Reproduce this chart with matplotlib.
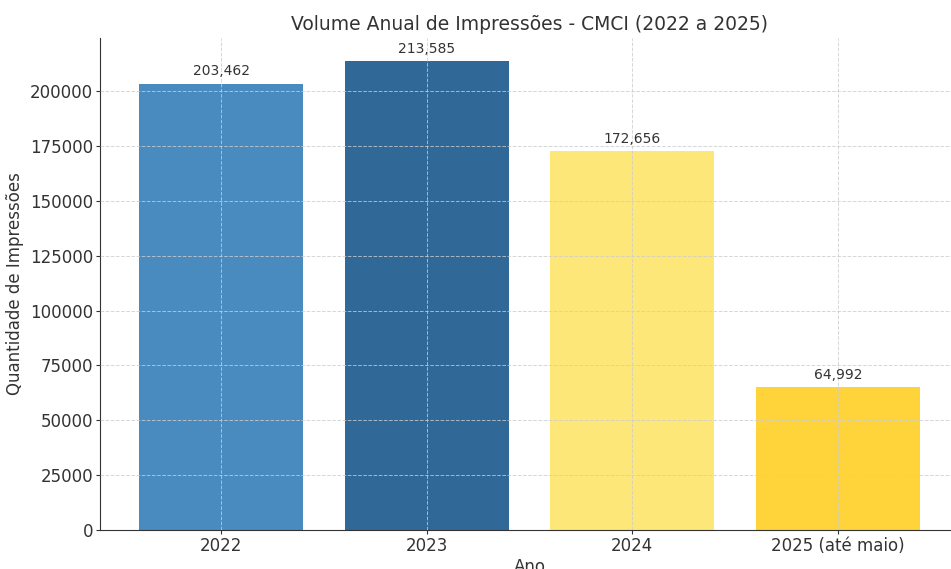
import matplotlib
matplotlib.use("Agg")
import matplotlib.pyplot as plt

# Dados
anos = ["2022", "2023", "2024", "2025 (até maio)"]
impressoes = [203462, 213585, 172656, 64992]
cores = ["#4a8bbf", "#306898", "#fde779", "#ffd43b"]

plt.rcParams["font.family"] = "DejaVu Sans"
plt.rcParams["text.color"] = "#333333"
plt.rcParams["axes.labelcolor"] = "#333333"
plt.rcParams["xtick.color"] = "#333333"
plt.rcParams["ytick.color"] = "#333333"

fig = plt.figure(figsize=(9.51, 5.69), dpi=100)
ax = fig.add_axes([100 / 951, 39 / 569, 859 / 951, 492 / 569])

bars = ax.bar(anos, impressoes, color=cores, width=0.8, zorder=2)

for bar, valor in zip(bars, impressoes):
    ax.text(bar.get_x() + bar.get_width() / 2, valor + 2500, f"{valor:,}",
            ha="center", va="bottom", fontsize=10, color="#333333")

ax.set_title("Volume Anual de Impressões - CMCI (2022 a 2025)", fontsize=13.5, color="#333333")
ax.set_xlabel("Ano", fontsize=12, labelpad=2)
ax.set_ylabel("Quantidade de Impressões", fontsize=12)
ax.tick_params(axis="both", labelsize=12, length=3, pad=2)

ax.grid(True, linestyle="--", color="#cccccc", linewidth=0.7, alpha=0.8, zorder=3)
ax.set_axisbelow(False)
for s in ["top", "right"]:
    ax.spines[s].set_visible(False)
for s in ["left", "bottom"]:
    ax.spines[s].set_color("#333333")

fig.savefig("out.png", dpi=100)
